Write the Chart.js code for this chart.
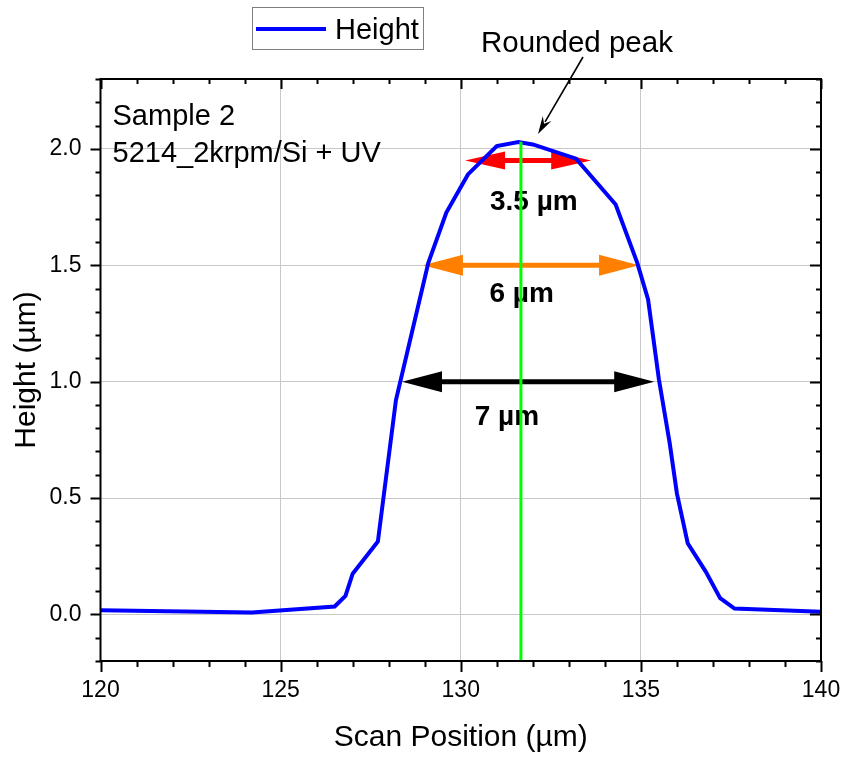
<!DOCTYPE html>
<html>
<head>
<meta charset="utf-8">
<title>Height profile</title>
<script src="https://cdn.jsdelivr.net/npm/chart.js@4.4.1/dist/chart.umd.min.js"></script>
<style>
  html, body { margin: 0; padding: 0; background: #fff; }
  .chart-container { position: relative; width: 844px; height: 757px; }
</style>
</head>
<body>
<div class="chart-container"><canvas id="profileChart"></canvas></div>
<script>
// profile data (µm)
const scanPos = [120, 124.2, 126.5, 126.8, 127.0, 127.7, 128.2, 129.1, 129.6, 130.2, 131.0, 131.6, 132.0,
                 133.2, 134.3, 134.9, 135.2, 135.5, 135.8, 136.0, 136.3, 136.8, 137.2, 137.6, 140];
const heightVals = [0.018, 0.008, 0.034, 0.08, 0.175, 0.313, 0.92, 1.51, 1.726, 1.89, 2.012, 2.029, 2.019,
                    1.958, 1.761, 1.51, 1.353, 1.01, 0.736, 0.52, 0.306, 0.184, 0.07, 0.025, 0.012];

// peak marker line
const peakX = [131.67, 131.67];
const peakY = [-0.2, 2.03];

// width arrows: level, centre, width
const widthLevels = [1.95, 1.5, 1.0];
const widthCentres = [131.87, 131.95, 131.87];
const widthValues = [3.5, 6, 7];
const widthLabels = ['3.5 µm', '6 µm', '7 µm'];

const xTicks = [120, 125, 130, 135, 140];
const yTicks = [0.0, 0.5, 1.0, 1.5, 2.0];

const font = 'Liberation Sans, Arial, sans-serif';

// arrow styles and label placement (data units)
const arrowStyle = [
    { color: '#ff0000', head: 40, half: 9, labelX: 132.03, labelY: 1.77 },
    { color: '#ff8000', head: 40, half: 10.5, labelX: 131.69, labelY: 1.377 },
    { color: '#000000', head: 40, half: 10.5, labelX: 131.28, labelY: 0.847 }
];

function drawArrowHead(ctx, tipX, tipY, dir, len, half) {
    ctx.beginPath();
    ctx.moveTo(tipX, tipY);
    ctx.lineTo(tipX + dir * len, tipY - half);
    ctx.lineTo(tipX + dir * len, tipY + half);
    ctx.closePath();
    ctx.fill();
}

const widthArrows = {
    id: 'widthArrows',
    beforeDatasetsDraw(chart) {
        const { ctx, scales: { x, y } } = chart;
        ctx.save();
        widthLevels.forEach((lvl, i) => {
            const st = arrowStyle[i];
            const x0 = x.getPixelForValue(widthCentres[i] - widthValues[i] / 2);
            const x1 = x.getPixelForValue(widthCentres[i] + widthValues[i] / 2);
            const py = y.getPixelForValue(lvl);
            ctx.strokeStyle = st.color;
            ctx.fillStyle = st.color;
            ctx.lineWidth = 5;
            ctx.beginPath();
            ctx.moveTo(x0 + st.head - 2, py);
            ctx.lineTo(x1 - st.head + 2, py);
            ctx.stroke();
            drawArrowHead(ctx, x0, py, 1, st.head, st.half);
            drawArrowHead(ctx, x1, py, -1, st.head, st.half);

            ctx.fillStyle = '#000';
            ctx.font = 'bold 28px ' + font;
            ctx.textAlign = 'center';
            ctx.textBaseline = 'middle';
            ctx.fillText(widthLabels[i], x.getPixelForValue(st.labelX), y.getPixelForValue(st.labelY));
        });
        ctx.restore();
    }
};

// box frame, minor/major ticks, legend and text notes
const frameAndNotes = {
    id: 'frameAndNotes',
    afterDraw(chart) {
        const { ctx, chartArea: a, scales: { x, y } } = chart;
        ctx.save();
        ctx.strokeStyle = '#000';
        ctx.lineWidth = 2;
        ctx.strokeRect(a.left, a.top, a.right - a.left, a.bottom - a.top);

        ctx.beginPath();
        for (let v = 120; v <= 140; v++) {
            const px = Math.round(x.getPixelForValue(v)) + 0.5;
            const major = v % 5 === 0;
            ctx.moveTo(px, a.bottom);
            ctx.lineTo(px, a.bottom + (major ? 11 : 6));
            ctx.moveTo(px, a.top);
            ctx.lineTo(px, a.top + (major ? 10 : 5));
        }
        for (let k = -2; k <= 23; k++) {
            const py = Math.round(y.getPixelForValue(k / 10)) + 0.5;
            const major = k % 5 === 0;
            ctx.moveTo(a.left, py);
            ctx.lineTo(a.left - (major ? 10 : 5), py);
            ctx.moveTo(a.right, py);
            ctx.lineTo(a.right - (major ? 11 : 5), py);
        }
        ctx.stroke();

        // legend
        ctx.strokeStyle = '#7f7f7f';
        ctx.lineWidth = 1;
        ctx.strokeRect(252.5, 7.5, 171, 42);
        ctx.strokeStyle = '#0000ff';
        ctx.lineWidth = 4;
        ctx.beginPath();
        ctx.moveTo(256, 29);
        ctx.lineTo(326, 29);
        ctx.stroke();
        ctx.fillStyle = '#000';
        ctx.font = '29px ' + font;
        ctx.textAlign = 'left';
        ctx.textBaseline = 'alphabetic';
        ctx.fillText('Height', 335, 39);

        // sample notes
        ctx.fillText('Sample 2', a.left + 12, 125);
        ctx.fillText('5214_2krpm/Si + UV', a.left + 12, 162);

        // peak callout
        ctx.font = '29.5px ' + font;
        ctx.fillText('Rounded peak', 481, 52);
        const tx = 538, ty = 134, sx = 583, sy = 57;
        const ang = Math.atan2(ty - sy, tx - sx);
        ctx.strokeStyle = '#000';
        ctx.lineWidth = 1.6;
        ctx.beginPath();
        ctx.moveTo(sx, sy);
        ctx.lineTo(tx - 14 * Math.cos(ang), ty - 14 * Math.sin(ang));
        ctx.stroke();
        ctx.beginPath();
        ctx.moveTo(tx, ty);
        ctx.lineTo(tx - 18 * Math.cos(ang) + 5 * Math.sin(ang), ty - 18 * Math.sin(ang) - 5 * Math.cos(ang));
        ctx.lineTo(tx - 12 * Math.cos(ang), ty - 12 * Math.sin(ang));
        ctx.lineTo(tx - 18 * Math.cos(ang) - 5 * Math.sin(ang), ty - 18 * Math.sin(ang) + 5 * Math.cos(ang));
        ctx.closePath();
        ctx.fillStyle = '#000';
        ctx.fill();
        ctx.restore();
    }
};

document.addEventListener('DOMContentLoaded', () => {
    const ctx = document.getElementById('profileChart').getContext('2d');

    new Chart(ctx, {
        type: 'scatter',
        data: {
            datasets: [
                {
                    label: 'Peak',
                    data: peakX.map((v, i) => ({ x: v, y: peakY[i] })),
                    showLine: true,
                    borderColor: '#00ff00',
                    borderWidth: 3,
                    pointRadius: 0,
                    order: 0
                },
                {
                    label: 'Height',
                    data: scanPos.map((v, i) => ({ x: v, y: heightVals[i] })),
                    showLine: true,
                    borderColor: '#0000ff',
                    borderWidth: 4,
                    pointRadius: 0,
                    tension: 0,
                    order: 1
                }
            ]
        },
        options: {
            responsive: true,
            maintainAspectRatio: false,
            animation: false,
            layout: { padding: { top: 79, right: 23, left: 0, bottom: 0 } },
            plugins: {
                legend: { display: false },
                tooltip: { enabled: false }
            },
            scales: {
                x: {
                    type: 'linear',
                    min: 120,
                    max: 140,
                    afterBuildTicks: s => { s.ticks = xTicks.map(v => ({ value: v })); },
                    afterFit: s => { s.height = 96; s.paddingLeft = 0; s.paddingRight = 0; },
                    grid: { color: '#c8c8c8', lineWidth: 1, drawTicks: false },
                    border: { display: false },
                    ticks: {
                        padding: 16,
                        color: '#000',
                        font: { family: font, size: 23 },
                        maxRotation: 0,
                        callback: v => String(v)
                    },
                    title: {
                        display: true,
                        text: 'Scan Position (µm)',
                        color: '#000',
                        font: { family: font, size: 30 },
                        padding: { top: 0, bottom: 1 }
                    }
                },
                y: {
                    min: -0.2,
                    max: 2.3,
                    afterBuildTicks: s => { s.ticks = yTicks.map(v => ({ value: v })); },
                    afterFit: s => { s.width = 100.5; s.paddingTop = 0; s.paddingBottom = 0; },
                    grid: { color: '#c8c8c8', lineWidth: 1, drawTicks: false },
                    border: { display: false },
                    ticks: {
                        padding: 19,
                        color: '#000',
                        font: { family: font, size: 23 },
                        callback: v => Number(v).toFixed(1)
                    },
                    title: {
                        display: true,
                        text: 'Height (µm)',
                        color: '#000',
                        font: { family: font, size: 30 },
                        padding: { top: 9, bottom: 0 }
                    }
                }
            }
        },
        plugins: [widthArrows, frameAndNotes]
    });
});
</script>
</body>
</html>
